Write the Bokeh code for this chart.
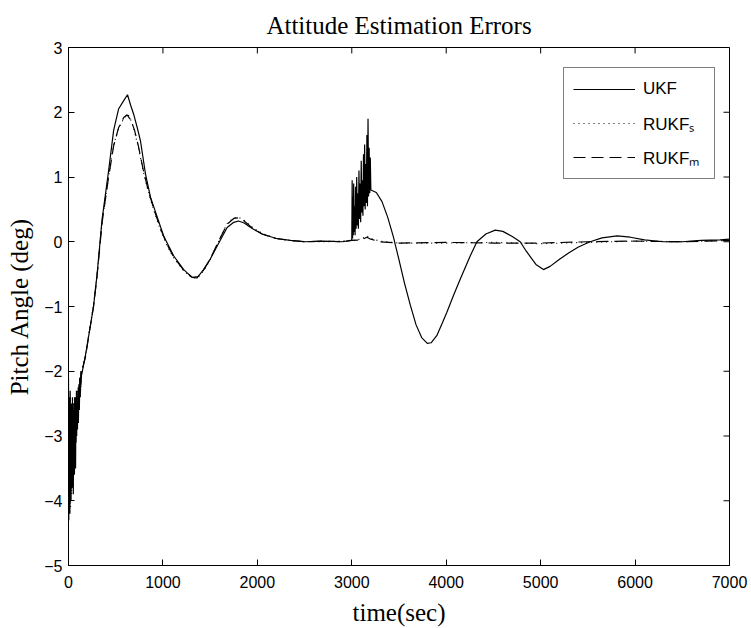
from bokeh.plotting import figure
from bokeh.models import Range1d, FixedTicker
from bokeh.embed import file_html
from bokeh.resources import INLINE

# ---------------- data ----------------
x_ticks = [0, 1000, 2000, 3000, 4000, 5000, 6000, 7000]
y_ticks = [-5, -4, -3, -2, -1, 0, 1, 2, 3]

t_ukf = [0, 3, 6, 9, 12, 15, 18, 21, 24, 27, 30, 33, 36, 39, 42, 45, 48, 51, 54, 57,
         60, 63, 66, 69, 72, 75, 78, 81, 84, 87, 90, 95, 100, 105, 110, 115, 120, 125, 130, 140,
         180, 220, 265, 303, 356, 425, 478, 530, 585, 625, 660, 690, 730, 762, 815, 868, 940,
         1010, 1115, 1220, 1310, 1360, 1430, 1500, 1573, 1680, 1750, 1800, 1860, 1950, 2050,
         2200, 2350, 2500, 2700, 2900, 2990,
         3000, 3004, 3008, 3012, 3016, 3020, 3025, 3030, 3035, 3040, 3046, 3052, 3058, 3064,
         3070, 3076, 3082, 3088, 3094, 3100, 3106, 3112, 3118, 3124, 3130, 3136, 3142, 3148,
         3154, 3160, 3166, 3172, 3178, 3184, 3190, 3196, 3202,
         3260, 3320, 3380, 3440, 3500, 3560, 3620, 3680, 3740, 3800, 3840, 3900, 3960, 4007,
         4080, 4148, 4254, 4325, 4420, 4519, 4600, 4700, 4783, 4850, 4950, 5030, 5100, 5200,
         5300, 5400, 5524, 5650, 5810, 5950, 6100, 6300, 6500, 6700, 6900, 7000]
e_ukf = [-2.1, -4.3, -2.4, -4.1, -2.6, -4.2, -2.3, -3.9, -2.8, -4.0, -2.5, -3.7, -2.9, -3.8,
         -2.4, -3.6, -2.7, -3.9, -2.6, -3.4, -2.5, -3.6, -2.8, -3.3, -2.4, -3.5, -2.7, -3.1,
         -2.3, -3.0, -2.5, -2.9, -2.3, -2.8, -2.2, -2.6, -2.1, -2.4, -2.0, -2.05,
         -1.75, -1.4, -1.0, -0.5, 0.35, 1.1, 1.72, 2.05, 2.18, 2.27, 2.1, 1.97, 1.75, 1.56,
         1.05, 0.69, 0.38, 0.08, -0.22, -0.43, -0.55, -0.56, -0.43, -0.27, -0.07, 0.22, 0.3,
         0.32, 0.29, 0.2, 0.12, 0.05, 0.02, 0.0, 0.01, 0.0, 0.02,
         0.02, 0.95, 0.05, 0.7, 0.1, 0.9, 0.15, 0.55, 0.1, 0.85, 0.2, 1.0, 0.25, 0.75,
         0.2, 1.1, 0.35, 0.9, 0.3, 1.25, 0.45, 0.95, 0.4, 1.35, 0.55, 1.5, 0.5, 1.2,
         0.6, 1.65, 0.55, 1.9, 0.7, 1.45, 0.75, 1.3, 0.8,
         0.76, 0.62, 0.38, 0.08, -0.28, -0.65, -0.98, -1.28, -1.48, -1.57, -1.56, -1.45,
         -1.25, -1.09, -0.82, -0.58, -0.22, 0.0, 0.12, 0.18, 0.16, 0.08, 0.0, -0.15, -0.35,
         -0.43, -0.38, -0.27, -0.17, -0.08, 0.0, 0.06, 0.09, 0.07, 0.03, 0.0, 0.0, 0.02,
         0.03, 0.04]

t_rukf_s = [0, 3, 6, 9, 12, 15, 18, 21, 24, 27, 30, 33, 36, 39, 42, 45, 48, 51, 54, 57,
            60, 66, 72, 78, 84, 90, 100, 110, 120, 130, 140,
            180, 220, 265, 303, 356, 425, 478, 530, 585, 630, 670, 700, 740, 790, 840, 900,
            970, 1040, 1115, 1220, 1310, 1370, 1430, 1500, 1573, 1680, 1750, 1800, 1860,
            1950, 2050, 2200, 2350, 2500, 2700, 2900, 3000, 3100, 3160, 3200, 3300, 3500,
            4000, 4500, 5000, 5500, 6000, 6500, 7000]
e_rukf_s = [-2.2, -3.8, -2.6, -4.0, -2.9, -3.7, -2.5, -4.1, -3.0, -3.5, -2.7, -3.9, -2.6,
            -3.4, -2.8, -3.7, -2.5, -3.3, -2.9, -3.6, -2.6, -3.2, -2.5, -3.0, -2.4, -2.8,
            -2.3, -2.6, -2.1, -2.3, -2.0,
            -1.75, -1.38, -0.98, -0.5, 0.32, 1.02, 1.5, 1.75, 1.9, 1.97, 1.85, 1.7, 1.45,
            1.1, 0.8, 0.5, 0.2, -0.05, -0.25, -0.45, -0.56, -0.55, -0.45, -0.28, -0.05, 0.28,
            0.37, 0.38, 0.33, 0.22, 0.13, 0.05, 0.02, 0.0, 0.0, 0.01, 0.02, 0.04, 0.09, 0.05,
            0.01, -0.02, -0.02, -0.01, -0.03, -0.01, 0.01, 0.0, 0.02]

t_rukf_m = [0, 4, 8, 12, 16, 20, 24, 28, 32, 36, 40, 44, 48, 52, 56, 60, 65, 70, 75, 80,
            88, 96, 104, 112, 120, 130, 140,
            180, 220, 265, 303, 356, 425, 478, 530, 585, 620, 660, 700, 740, 790, 840, 900,
            970, 1040, 1115, 1220, 1310, 1370, 1430, 1500, 1573, 1680, 1750, 1800, 1860,
            1950, 2050, 2200, 2350, 2500, 2700, 2900, 3000, 3100, 3160, 3200, 3300, 3500,
            4000, 4500, 5000, 5500, 6000, 6500, 7000]
e_rukf_m = [-2.3, -4.0, -2.7, -3.6, -2.4, -3.9, -2.8, -3.4, -2.6, -3.8, -2.9, -3.3, -2.5,
            -3.5, -2.7, -3.1, -2.4, -3.2, -2.6, -2.9, -2.4, -2.7, -2.2, -2.5, -2.1, -2.25,
            -2.0,
            -1.78, -1.4, -1.0, -0.52, 0.3, 1.0, 1.48, 1.76, 1.92, 1.96, 1.88, 1.72, 1.48,
            1.12, 0.82, 0.52, 0.22, -0.03, -0.24, -0.44, -0.55, -0.54, -0.44, -0.27, -0.04,
            0.27, 0.36, 0.37, 0.32, 0.21, 0.12, 0.05, 0.02, 0.0, 0.01, 0.0, 0.02, 0.03, 0.07,
            0.04, 0.0, -0.02, -0.01, -0.02, -0.02, 0.0, 0.01, 0.0, 0.02]

# ---------------- figure ----------------
SERIF = "Liberation Serif"
SANS = "Liberation Sans"
W, H = 751, 628
BL, BR, BT, BB = 68, 22, 47, 60          # borders around the plot frame
X0, X1 = x_ticks[0], x_ticks[-1]
Y0, Y1 = y_ticks[0], y_ticks[-1]
TICK = 6                                  # inward tick length, px

p = figure(width=W, height=H, output_backend="svg", toolbar_location=None,
           x_range=Range1d(X0, X1), y_range=Range1d(Y0, Y1),
           min_border_left=BL, min_border_right=BR, min_border_top=BT, min_border_bottom=BB,
           background_fill_color="white", border_fill_color="white",
           title="Attitude Estimation Errors")
p.grid.visible = False
p.outline_line_color = "black"
p.outline_line_width = 1

p.title.align = "center"
p.title.text_font = SERIF
p.title.text_font_size = "25px"
p.title.text_font_style = "normal"
p.title.text_color = "black"
p.title.standoff = 18

for ax, ticks in ((p.xaxis[0], x_ticks), (p.yaxis[0], y_ticks)):
    ax.ticker = FixedTicker(ticks=ticks)
    ax.major_tick_in = TICK
    ax.major_tick_out = 0
    ax.minor_tick_line_color = None
    ax.axis_line_color = "black"
    ax.major_tick_line_color = "black"
    ax.major_label_text_font = SANS
    ax.major_label_text_font_size = "16px"
    ax.major_label_text_color = "black"
    ax.axis_label_text_font = SERIF
    ax.axis_label_text_font_size = "25px"
    ax.axis_label_text_font_style = "normal"
    ax.axis_label_text_color = "black"

p.xaxis.axis_label = "time(sec)"
p.yaxis.axis_label = "Pitch Angle (deg)"
p.xaxis.major_label_standoff = 10
p.yaxis.major_label_standoff = 6
p.xaxis.axis_label_standoff = 8
p.yaxis.axis_label_standoff = 8

# inward ticks on the top and right edges of the box (MATLAB style)
fw, fh = W - BL - BR, H - BT - BB
dy = TICK * (Y1 - Y0) / fh
dx = TICK * (X1 - X0) / fw
p.segment(x0=x_ticks, y0=[Y1] * len(x_ticks), x1=x_ticks, y1=[Y1 - dy] * len(x_ticks),
          line_color="black", line_width=1)
p.segment(x0=[X1] * len(y_ticks), y0=y_ticks, x1=[X1 - dx] * len(y_ticks), y1=y_ticks,
          line_color="black", line_width=1)

p.line(t_ukf, e_ukf, line_color="black", line_width=1.2, legend_label="UKF")
p.line(t_rukf_s, e_rukf_s, line_color="black", line_width=1.2, line_dash="1 4",
       legend_label="RUKF\u209b")
p.line(t_rukf_m, e_rukf_m, line_color="black", line_width=1.2, line_dash="12 6",
       legend_label="RUKF\u2098")

lg = p.legend[0]
lg.location = (495, 386)
lg.border_line_color = "black"
lg.border_line_width = 1
lg.background_fill_color = "white"
lg.background_fill_alpha = 1
lg.label_text_font = SANS
lg.label_text_font_size = "17px"
lg.label_text_color = "black"
lg.glyph_width = 62
lg.glyph_height = 24
lg.label_height = 24
lg.label_width = 62
lg.spacing = 10
lg.padding = 9
lg.margin = 0
lg.label_standoff = 8

open("out.html", "w").write(file_html(p, INLINE))
